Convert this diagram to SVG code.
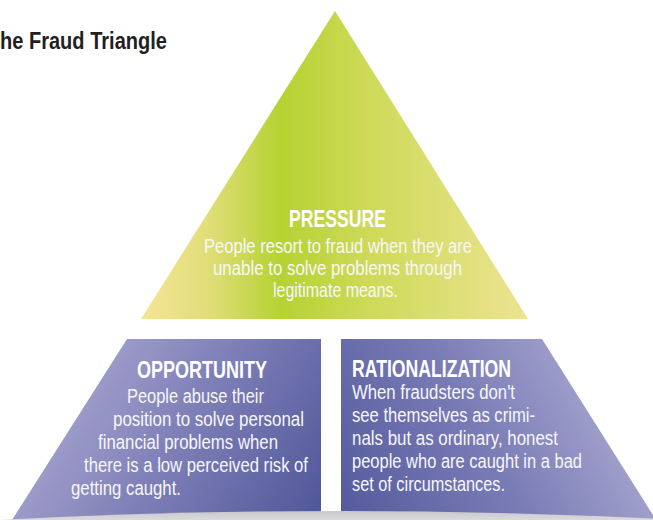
<svg xmlns="http://www.w3.org/2000/svg" width="653" height="520" viewBox="0 0 653 520">
  <defs>
    <linearGradient id="gPressure" gradientUnits="userSpaceOnUse" x1="141" y1="0" x2="528" y2="0">
      <stop offset="0" stop-color="#f5e496"/>
      <stop offset="0.17" stop-color="#e2de7a"/>
      <stop offset="0.36" stop-color="#b5d232"/>
      <stop offset="0.6" stop-color="#cfda5a"/>
      <stop offset="1" stop-color="#ece491"/>
    </linearGradient>
    <linearGradient id="gOpportunity" gradientUnits="userSpaceOnUse" x1="60" y1="360" x2="320" y2="520">
      <stop offset="0" stop-color="#a8a7d0"/>
      <stop offset="0.45" stop-color="#7f80b8"/>
      <stop offset="1" stop-color="#4f5699"/>
    </linearGradient>
    <linearGradient id="gRational" gradientUnits="userSpaceOnUse" x1="345" y1="510" x2="620" y2="360">
      <stop offset="0" stop-color="#555b9d"/>
      <stop offset="0.5" stop-color="#7a7cb6"/>
      <stop offset="1" stop-color="#aeadd3"/>
    </linearGradient>
    <linearGradient id="gFloor" x1="0" y1="0" x2="0" y2="1">
      <stop offset="0" stop-color="#c8c8cb"/>
      <stop offset="1" stop-color="#dadadc"/>
    </linearGradient>
  </defs>
  <style>
    .title { font-family: "Liberation Sans Narrow", "Liberation Sans", Arial, sans-serif; font-weight: bold; font-size: 24.5px; fill: #231f20; }
    .head { font-family: "Liberation Sans Narrow", "Liberation Sans", Arial, sans-serif; font-weight: bold; font-size: 23.5px; fill: #ffffff; }
    .body { font-family: "Liberation Sans Narrow", "Liberation Sans", Arial, sans-serif; font-size: 19.5px; fill: #f7f7fb; }
  </style>

  <rect width="653" height="520" fill="#ffffff"/>

  <g id="title">
    <text class="title" x="0" y="49" textLength="167" lengthAdjust="spacingAndGlyphs">he Fraud Triangle</text>
  </g>

  <g id="pressure">
    <polygon points="335,11 528,319 141,319" fill="url(#gPressure)"/>
    <text class="head" x="289" y="227" textLength="97" lengthAdjust="spacingAndGlyphs">PRESSURE</text>
    <text class="body" x="204" y="253" textLength="268" lengthAdjust="spacingAndGlyphs">People resort to fraud when they are</text>
    <text class="body" x="213" y="275" textLength="249" lengthAdjust="spacingAndGlyphs">unable to solve problems through</text>
    <text class="body" x="273" y="297" textLength="125" lengthAdjust="spacingAndGlyphs">legitimate means.</text>
  </g>

  <g id="opportunity">
    <polygon points="127,339 321,339 321,520 12,520" fill="url(#gOpportunity)"/>
    <text class="head" x="137" y="378" textLength="130" lengthAdjust="spacingAndGlyphs">OPPORTUNITY</text>
    <text class="body" x="127" y="403" textLength="137" lengthAdjust="spacingAndGlyphs">People abuse their</text>
    <text class="body" x="113" y="426" textLength="191" lengthAdjust="spacingAndGlyphs">position to solve personal</text>
    <text class="body" x="98" y="449" textLength="180" lengthAdjust="spacingAndGlyphs">financial problems when</text>
    <text class="body" x="84" y="472" textLength="224" lengthAdjust="spacingAndGlyphs">there is a low perceived risk of</text>
    <text class="body" x="71" y="495" textLength="110" lengthAdjust="spacingAndGlyphs">getting caught.</text>
  </g>

  <g id="rationalization">
    <polygon points="341,339 542,339 653,515 653,520 341,520" fill="url(#gRational)"/>
    <text class="head" x="352" y="377" textLength="159" lengthAdjust="spacingAndGlyphs">RATIONALIZATION</text>
    <text class="body" x="352" y="399" textLength="163" lengthAdjust="spacingAndGlyphs">When fraudsters don't</text>
    <text class="body" x="352" y="422" textLength="183" lengthAdjust="spacingAndGlyphs">see themselves as crimi-</text>
    <text class="body" x="352" y="445" textLength="206" lengthAdjust="spacingAndGlyphs">nals but as ordinary, honest</text>
    <text class="body" x="352" y="468" textLength="230" lengthAdjust="spacingAndGlyphs">people who are caught in a bad</text>
    <text class="body" x="352" y="491" textLength="153" lengthAdjust="spacingAndGlyphs">set of circumstances.</text>
  </g>

  <!-- floor shadow under the base -->
  <path id="floor" d="M0,520 L8,519.5 Q330,503 653,518.5 L653,520 Z" fill="url(#gFloor)"/>
</svg>
